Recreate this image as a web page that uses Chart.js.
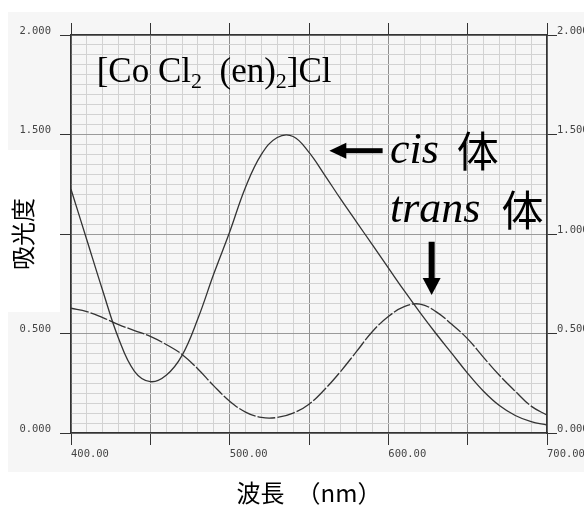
<!DOCTYPE html>
<html>
<head>
<meta charset="utf-8">
<script src="https://cdn.jsdelivr.net/npm/chart.js@4/dist/chart.umd.min.js"></script>
<style>
  html, body { margin: 0; padding: 0; background: #fff; }
  #wrap { width: 584px; height: 507px; }
</style>
</head>
<body>
<div id="wrap"><canvas id="spectrum" width="584" height="507"></canvas></div>
<script>
// --- Data (every 10 nm) ---
const wavelengths = [400, 410, 420, 430, 440, 450, 460, 470, 480, 490, 500,
                     510, 520, 530, 540, 550, 560, 570, 580, 590, 600,
                     610, 620, 630, 640, 650, 660, 670, 680, 690, 700];
// cis isomer (solid line)
const cisAbs = [1.225, 0.97, 0.715, 0.475, 0.31, 0.258, 0.29, 0.39, 0.575, 0.80, 1.01,
                1.235, 1.40, 1.485, 1.49, 1.41, 1.295, 1.175, 1.06, 0.945, 0.83,
                0.715, 0.605, 0.50, 0.40, 0.30, 0.21, 0.138, 0.088, 0.057, 0.04];
// trans isomer (dash line)
const transAbs = [0.627, 0.61, 0.58, 0.545, 0.515, 0.486, 0.445, 0.395, 0.322, 0.237, 0.16,
                  0.105, 0.078, 0.078, 0.10, 0.145, 0.22, 0.31, 0.41, 0.51, 0.585,
                  0.635, 0.648, 0.61, 0.546, 0.473, 0.38, 0.29, 0.21, 0.135, 0.09];

// --- Tick labels ---
const xLabelValues = [400, 500, 600, 700];
const yLabelValues = [0, 0.5, 1.0, 1.5, 2.0];

const tickFont = { family: 'DejaVu Sans Mono', size: 10.5 };
const cjkFamily = '"Noto Sans CJK JP", "Noto Sans CJK SC", sans-serif';
const serifFamily = '"Liberation Serif", "DejaVu Serif", serif';
const frame = { color: '#333', width: 1.5 };

const round2 = v => Math.round(v * 100) / 100;
const isHalf = v => Math.abs(v * 2 - Math.round(v * 2)) < 1e-6;

/**
 * Light grey "paper" of the scan, with the white patch behind the y title.
 */
const paperPlugin = {
    id: 'paper',
    beforeDraw(chart) {
        const { ctx } = chart;
        ctx.save();
        ctx.fillStyle = '#f6f6f6';
        ctx.fillRect(8, 12, 576, 460);
        ctx.fillStyle = '#ffffff';
        ctx.fillRect(8, 150, 52, 162);
        ctx.restore();
    }
};

/**
 * Formula and the cis / trans labels with their arrows, placed in data units.
 */
const notesPlugin = {
    id: 'notes',
    afterDatasetsDraw(chart) {
        const { ctx } = chart;
        const X = v => chart.scales.x.getPixelForValue(v);
        const Y = v => chart.scales.y.getPixelForValue(v);
        ctx.save();
        ctx.fillStyle = '#000';
        ctx.textBaseline = 'alphabetic';
        ctx.textAlign = 'left';

        // [Co Cl2 (en)2]Cl
        const parts = [['[Co Cl', false], ['2', true], ['  (en)', false], ['2', true], [']Cl', false]];
        let fx = X(416.2);
        const fy = Y(1.764);
        parts.forEach(([txt, sub]) => {
            ctx.font = sub ? `22px ${serifFamily}` : `35px ${serifFamily}`;
            ctx.fillText(txt, fx, sub ? fy + 6 : fy);
            fx += ctx.measureText(txt).width;
        });

        // cis arrow (pointing left)
        const ay = Y(1.4186);
        ctx.fillRect(X(573), ay - 2.5, X(596.4) - X(573), 5);
        ctx.beginPath();
        ctx.moveTo(X(562.8), ay);
        ctx.lineTo(X(573.5), ay - 8);
        ctx.lineTo(X(573.5), ay + 8);
        ctx.closePath();
        ctx.fill();

        ctx.font = `italic 44px ${serifFamily}`;
        ctx.fillText('cis', X(601), Y(1.355));
        ctx.fillText('trans', X(601), Y(1.062));

        ctx.textBaseline = 'middle';
        ctx.font = `42px ${cjkFamily}`;
        ctx.fillText('体', X(643.1), Y(1.419));
        ctx.fillText('体', X(671.4), Y(1.12));

        // trans arrow (pointing down)
        const ax = X(627.3);
        ctx.fillRect(ax - 3, Y(0.961), 6, Y(0.779) - Y(0.961) + 1);
        ctx.beginPath();
        ctx.moveTo(ax - 9, Y(0.779));
        ctx.lineTo(ax + 9, Y(0.779));
        ctx.lineTo(ax, Y(0.693));
        ctx.closePath();
        ctx.fill();
        ctx.restore();
    }
};

const toPoints = arr => wavelengths.map((w, i) => ({ x: w, y: arr[i] }));

// Fix axis boxes so the plot area sits where the scan's frame is
const fixBox = (w, h) => s => {
    if (w !== null) s.width = w;
    if (h !== null) s.height = h;
    s.paddingLeft = 0;
    s.paddingRight = 0;
    s.paddingTop = 0;
    s.paddingBottom = 0;
};

const ctx = document.getElementById('spectrum').getContext('2d');
new Chart(ctx, {
    type: 'line',
    data: {
        datasets: [
            {
                label: 'cis 体',
                data: toPoints(cisAbs),
                borderColor: '#333',
                borderWidth: 1.3,
                pointRadius: 0,
                tension: 0.4,
                fill: false
            },
            {
                label: 'trans 体',
                data: toPoints(transAbs),
                borderColor: '#333',
                borderWidth: 1.3,
                borderDash: [18, 2],
                pointRadius: 0,
                tension: 0.4,
                fill: false
            }
        ]
    },
    options: {
        responsive: false,
        devicePixelRatio: 1,
        animation: false,
        layout: { padding: 0 },
        plugins: {
            legend: { display: false },
            tooltip: { enabled: false }
        },
        scales: {
            x: {
                type: 'linear',
                position: 'bottom',
                min: 400,
                max: 700,
                ticks: {
                    stepSize: 10,
                    autoSkip: false,
                    minRotation: 0,
                    maxRotation: 0,
                    align: 'start',
                    padding: 3,
                    font: tickFont,
                    color: '#444',
                    callback: v => xLabelValues.includes(Math.round(v)) ? Number(v).toFixed(2) : ''
                },
                grid: {
                    color: c => (Math.round(c.tick.value) % 50 === 0 ? '#8e8e8e' : '#d2d2d2'),
                    lineWidth: 1,
                    tickLength: 12,
                    tickColor: c => (Math.round(c.tick.value) % 50 === 0 ? '#333' : 'rgba(0,0,0,0)')
                },
                border: frame,
                title: {
                    display: true,
                    text: '波長　（nm）',
                    color: '#000',
                    font: { family: cjkFamily, size: 24 },
                    padding: { top: 0, bottom: 0 }
                },
                afterFit: fixBox(null, 74)
            },
            xTop: {
                type: 'linear',
                position: 'top',
                min: 400,
                max: 700,
                ticks: { display: false, stepSize: 50 },
                grid: { drawOnChartArea: false, tickLength: 12, tickColor: '#333' },
                border: frame,
                afterFit: fixBox(null, 35)
            },
            y: {
                position: 'left',
                min: 0,
                max: 2,
                ticks: {
                    stepSize: 0.05,
                    autoSkip: false,
                    padding: 9,
                    labelOffset: -4,
                    font: tickFont,
                    color: '#444',
                    // 1.000 on the left is hidden behind the axis title patch
                    callback: v => {
                        const r = round2(v);
                        return (yLabelValues.includes(r) && r !== 1) ? r.toFixed(3) : '';
                    }
                },
                grid: {
                    color: c => (isHalf(round2(c.tick.value)) ? '#9a9a9a' : '#d2d2d2'),
                    lineWidth: 1,
                    tickLength: 11,
                    tickColor: c => (isHalf(round2(c.tick.value)) ? '#333' : 'rgba(0,0,0,0)')
                },
                border: frame,
                title: {
                    display: true,
                    text: '吸光度',
                    color: '#000',
                    font: { family: cjkFamily, size: 24 },
                    padding: { top: 8, bottom: 0 }
                },
                afterFit: fixBox(71, null)
            },
            y2: {
                position: 'right',
                min: 0,
                max: 2,
                ticks: {
                    stepSize: 0.5,
                    padding: 0,
                    labelOffset: -4,
                    font: tickFont,
                    color: '#444',
                    callback: v => (yLabelValues.includes(round2(v)) ? round2(v).toFixed(3) : '')
                },
                grid: { drawOnChartArea: false, tickLength: 10, tickColor: '#333' },
                border: frame,
                afterFit: fixBox(37, null)
            }
        }
    },
    plugins: [paperPlugin, notesPlugin]
});
</script>
</body>
</html>
